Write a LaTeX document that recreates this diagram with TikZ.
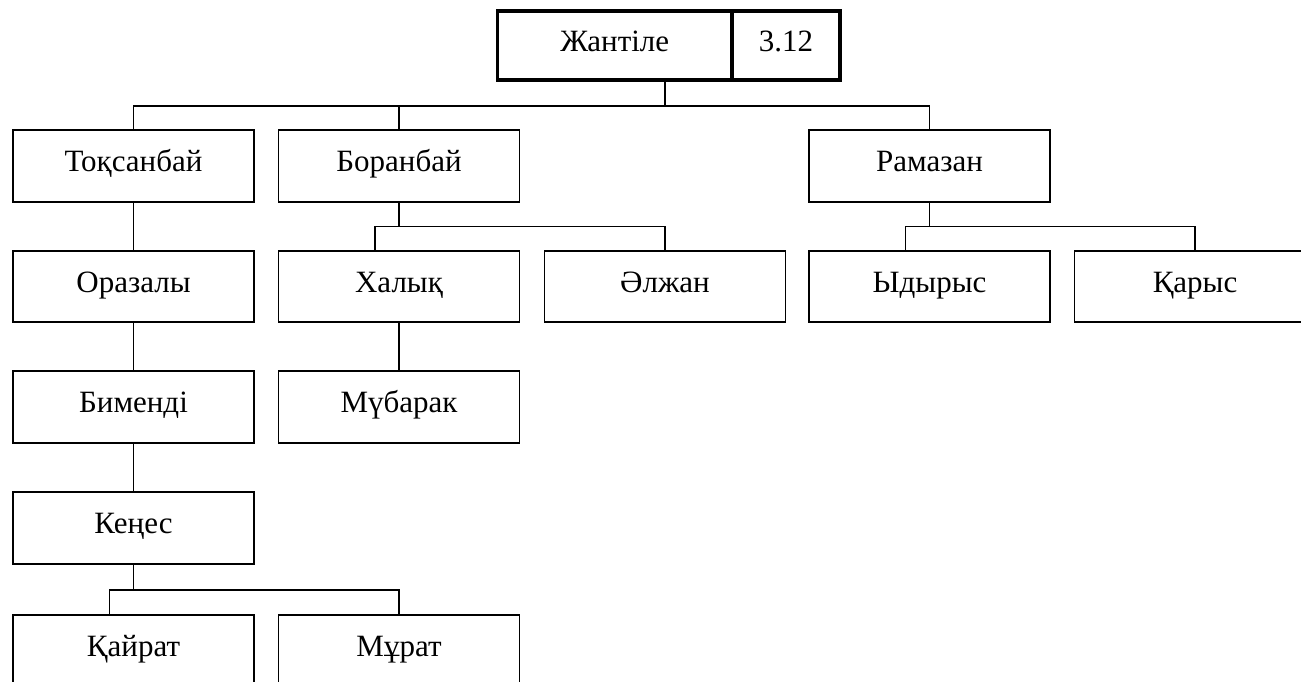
\documentclass[tikz,border=0pt]{standalone}
\usepackage{fontspec}
\setmainfont{Liberation Serif}
\usetikzlibrary{calc}
\tikzset{
  pbox/.style={draw, line width=1.6pt, minimum width=241pt, minimum height=71.5pt,
    inner sep=0pt, text height=21pt, text depth=9.5pt, font=\fontsize{31}{36}\selectfont},
  tbox/.style={pbox, line width=3.3pt, minimum height=69pt, text height=22pt, text depth=9pt},
  conn/.style={line width=1.6pt}
}
\begin{document}
\begin{tikzpicture}[x=1pt,y=-1pt]
\useasboundingbox (0,0) rectangle (1301,682);
\clip (0,0) rectangle (1301,682);
% top
\node[tbox, minimum width=234.5pt] (zh) at (614.75,45.5) {Жантіле};
\node[tbox, minimum width=108pt] (num) at (786,45.5) {3.12};
% row 1
\node[pbox] (tok) at (133.5,166) {Тоқсанбай};
\node[pbox] (bor) at (399,166) {Боранбай};
\node[pbox] (ram) at (929.5,166) {Рамазан};
% row 2
\node[pbox] (ora) at (133.5,286.5) {Оразалы};
\node[pbox] (hal) at (399,286.5) {Халық};
\node[pbox] (alz) at (665,286.5) {Әлжан};
\node[pbox] (ydy) at (929.5,286.5) {Ыдырыс};
\node[pbox] (kar) at (1195,286.5) {Қарыс};
% row 3
\node[pbox] (bim) at (133.5,407) {Бименді};
\node[pbox] (mub) at (399,407) {Мүбарак};
% row 4
\node[pbox] (ken) at (133.5,528) {Кеңес};
% row 5
\node[pbox, minimum height=72pt] (kay) at (133.5,651) {Қайрат};
\node[pbox, minimum height=72pt] (mur) at (399,651) {Мұрат};
% bus levels
\coordinate (b0) at (665,106);
\coordinate (h1) at (0,226.5);
\coordinate (h2) at (0,590);
\coordinate (halc) at ($(hal.north)+(-24,0)$);
\coordinate (ydyc) at ($(ydy.north)+(-24,0)$);
\coordinate (kayc) at ($(kay.north)+(-24,0)$);
% connectors
\draw[conn] (b0 |- zh.south) -- (b0);
\draw[conn] (tok.north) -- (tok.north |- b0) -- (ram.north |- b0) -- (ram.north);
\draw[conn] (bor.north) -- (bor.north |- b0);
\draw[conn] (bor.south) -- (bor.south |- h1);
\draw[conn] (halc) -- (halc |- h1) -- (alz.north |- h1) -- (alz.north);
\draw[conn] (ram.south) -- (ram.south |- h1);
\draw[conn] (ydyc) -- (ydyc |- h1) -- (kar.north |- h1) -- (kar.north);
\draw[conn] (tok.south) -- (ora.north);
\draw[conn] (ora.south) -- (bim.north);
\draw[conn] (bim.south) -- (ken.north);
\draw[conn] (hal.south) -- (mub.north);
\draw[conn] (ken.south) -- (ken.south |- h2);
\draw[conn] (kayc) -- (kayc |- h2) -- (mur.north |- h2) -- (mur.north);
\end{tikzpicture}
\end{document}
